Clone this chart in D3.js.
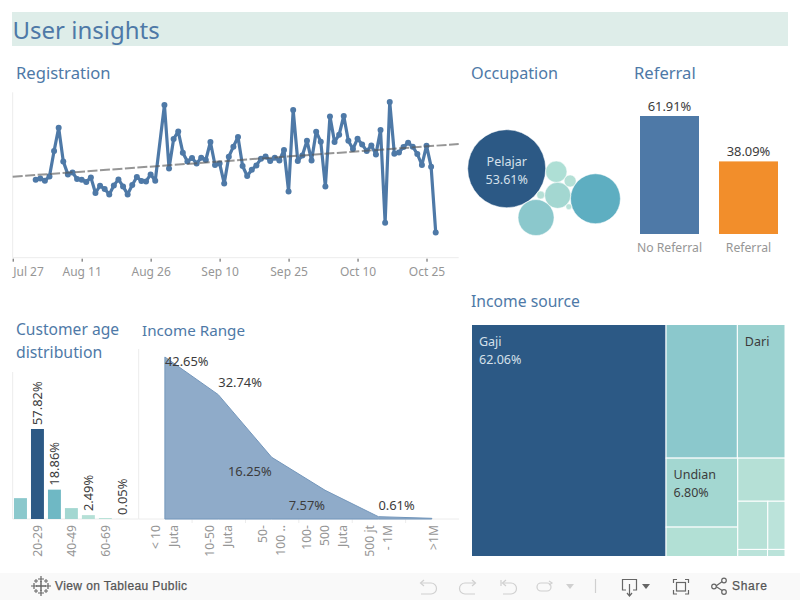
<!DOCTYPE html>
<html><head><meta charset="utf-8">
<style>html,body{margin:0;padding:0;background:#fff}svg{display:block}text{font-family:"Noto Sans",sans-serif}</style>
<script src="https://cdn.jsdelivr.net/npm/d3@7"></script></head>
<body><svg id="c" width="800" height="600"></svg>
<script>
// ---- data ----
const regStartDate = "2020-08-01";
const regValues = [78,79.3,77,81.3,106.7,130,96.3,83.3,85.3,78.7,78,75.7,80.3,64.7,72,68.7,63.3,72.3,78.3,71.3,63.3,72.7,80.7,76.7,76.3,83.3,77,null,152.7,89.3,118.7,126.3,105,96.3,99.7,94.3,100,97.7,115.7,92.7,94.3,74.3,101,111,120.7,91.7,81.7,88,92.3,99,101.3,96.7,100,97.3,107.7,66.3,147.7,96.7,102.3,117,97.3,126,116,71.3,141.3,115.7,123,141.7,117,108.7,119,113.3,106.7,112.3,103.3,127.7,35,155.7,104,105.3,110.7,115,111,103.7,92.7,112,91,25.3];
const regTicks = ["2020-07-27","2020-08-11","2020-08-26","2020-09-10","2020-09-25","2020-10-10","2020-10-25"];
const trendDates = ["2020-07-27","2020-11-01"];
const trendValues = [81,113.7];

const occupationNames = ["Pelajar","","","","","","",""];
const occupationShares = [53.61,21.9,11.4,5.96,4,1.27,.56,.3];

const referralNames = ["No Referral","Referral"];
const referralShares = [61.91,38.09];

const ageGroups = ["<20","20-29","30-39","40-49","50-59","60-69",">70"];
const ageShares = [13.4,57.82,18.86,7,2.49,.6,.05];
const ageTickLabels = ["20-29","40-49","60-69"];
const ageValueLabels = ["","57.82%","18.86%","","2.49%","","0.05%"];

const incomeRanges = ["< 10 Juta","10-50 Juta","50-100 Juta","100-500 Juta","500 jt - 1M",">1M"];
const incomeTickLines = [["< 10","Juta"],["10-50","Juta"],["50-","100 .."],["100-","500","Juta"],["500 jt","- 1M"],[">1M"]];
const incomeShares = [42.65,32.74,16.25,7.57,.61,.18];
const incomeLabels = ["42.65%","32.74%","16.25%","7.57%","0.61%",""];

const sourceNames = ["Gaji","","Dari","Undian","","","","","",""];
const sourceShares = [62.06,13.1,8.75,6.8,2.9,2.8,1.99,1.14,.29,.17];
const sourceLabels = ["62.06%","","","6.80%","","","","","",""];

// ---- styles ----
const BLUE="#4e79a7", NAVY="#2c5985", INK="#3c3c3c", GREY="#969696", RULE="#ececec";
const occColors=["#2c5985","#5eaec1","#8bc8cc","#a3d7d1","#aedfd5","#b5e0d6","#b5e0d6","#b9e2d9"];
const ageColors=["#8bc8cc","#2c5985","#6fb8c4","#a3d7d1","#b5e0d6","#b5e0d6","#b9e2d9"];
const refColors=["#4e79a7","#f28e2b"];
const srcColors=["#2c5985","#8bc8cc","#9bd2d0","#a3d7d1","#b2e0d5","#b5e0d6","#b7e1d7","#bbe3da","#bbe3da","#bbe3da"];

const svg=d3.select("#c");
const label=(g,x,y,t,size,fill,anchor)=>g.append("text").attr("x",x).attr("y",y).attr("dy","0.35em").attr("font-size",size).attr("fill",fill).attr("text-anchor",anchor||"start").text(t);
const vText=(g,x,y,t,size,fill)=>g.append("text").attr("transform",`translate(${x},${y}) rotate(-90)`).attr("dy","0.35em").attr("font-size",size).attr("fill",fill).attr("text-anchor","start").text(t);

// ---- header & sheet titles ----
svg.append("rect").attr("x",12).attr("y",12).attr("width",776).attr("height",34).attr("fill","#deede9");
label(svg,12.5,31,"User insights",24,BLUE);
[["Registration",16,73.5,16.6],["Occupation",471,73.5,16.2],["Referral",634,73.5,16.6],["Income source",471,301.5,15.7],["Customer age",16,329.5,15.6],["distribution",16,352.5,15.8],["Income Range",142,330.5,15.2]]
 .forEach(d=>label(svg,d[1],d[2],d[0],d[3],BLUE));

// ---- registration line ----
{
 const parse=d3.utcParse("%Y-%m-%d");
 const x=d3.scaleUtc().domain([parse("2020-07-27"),parse("2020-11-01")]).range([12.7,458.7]);
 const y=d3.scaleLinear().domain([0,165.4]).range([257.7,92.3]);
 const start=parse(regStartDate);
 const pts=regValues.map((v,i)=>({d:d3.utcDay.offset(start,i),v})).filter(p=>p.v!==null);
 const g=svg.append("g");
 g.append("line").attr("x1",12.7).attr("x2",12.7).attr("y1",92.3).attr("y2",257.7).attr("stroke",RULE);
 const ax=g.append("g").attr("transform","translate(0,257.7)")
  .call(d3.axisBottom(x).tickValues(regTicks.map(parse)).tickFormat(d3.utcFormat("%b %d")).tickSize(4).tickPadding(6));
 ax.select(".domain").attr("stroke",RULE).attr("d","M12.7,0H458.7");
 ax.selectAll(".tick line").attr("stroke","#555").attr("y1",1);
 ax.selectAll("text").attr("font-size",12).attr("fill",GREY).attr("font-family",'"Noto Sans"');
 ax.select(".tick text").attr("text-anchor","start");
 g.append("path").datum(pts).attr("fill","none").attr("stroke",BLUE).attr("stroke-width",3.2)
  .attr("stroke-linejoin","round").attr("d",d3.line().x(p=>x(p.d)).y(p=>y(p.v)));
 g.selectAll("circle").data(pts).join("circle").attr("cx",p=>x(p.d)).attr("cy",p=>y(p.v)).attr("r",3).attr("fill",BLUE);
 g.append("path").datum(trendDates.map((d,i)=>({d:parse(d),v:trendValues[i]}))).attr("fill","none")
  .attr("stroke","#555").attr("stroke-opacity",.62).attr("stroke-width",2).attr("stroke-dasharray","10 2.5")
  .attr("d",d3.line().x(p=>x(p.d)).y(p=>y(p.v)));
}

// ---- occupation bubbles: each one is laid tangent to two already placed ----
{
 const r=d3.scaleSqrt().domain([0,d3.max(occupationShares)]).range([0,39]);
 const c=occupationShares.map((v,i)=>({v,i,r:r(v)}));
 const [A,B,C,D,E,F,G,H]=c;
 const polar=(p,q,deg)=>{const a=deg*Math.PI/180,d=p.r+q.r;q.x=p.x+d*Math.cos(a);q.y=p.y+d*Math.sin(a);};
 const tangent=(p,q,n,side)=>{
  const dx=q.x-p.x,dy=q.y-p.y,L=Math.hypot(dx,dy),d1=p.r+n.r,d2=q.r+n.r;
  const a=(d1*d1-d2*d2+L*L)/(2*L),h=Math.sqrt(Math.max(0,d1*d1-a*a));
  n.x=p.x+a*dx/L-side*h*dy/L; n.y=p.y+a*dy/L+side*h*dx/L;
 };
 A.x=506.7;A.y=168.7;
 polar(A,E,3.5); polar(A,C,59);
 tangent(C,E,D,1); tangent(E,D,F,-1); tangent(D,F,B,1); tangent(A,D,G,1); tangent(D,B,H,1);
 const g=svg.append("g");
 g.selectAll("circle").data(c).join("circle").attr("cx",d=>d.x).attr("cy",d=>d.y).attr("r",d=>d.r)
  .attr("fill",d=>occColors[d.i]).attr("stroke","#fff").attr("stroke-width",.5);
 label(g,A.x,162,occupationNames[0],12.5,"#d5e0ea","middle");
 label(g,A.x,180,occupationShares[0].toFixed(2)+"%",12.5,"#d5e0ea","middle");
}

// ---- referral bars ----
{
 const x=d3.scaleBand().domain(referralNames).range([640,778]).paddingInner(20/79);
 const y=d3.scaleLinear().domain([0,61.91]).range([234,116]);
 const g=svg.append("g");
 g.selectAll("rect").data(referralNames).join("rect").attr("x",d=>x(d)).attr("width",x.bandwidth())
  .attr("y",(d,i)=>y(referralShares[i])).attr("height",(d,i)=>234-y(referralShares[i])).attr("fill",(d,i)=>refColors[i]);
 referralNames.forEach((n,i)=>{
  const cx=x(n)+x.bandwidth()/2;
  label(g,cx,y(referralShares[i])-10,referralShares[i].toFixed(2)+"%",12.9,INK,"middle");
  label(g,cx,248,n,12.2,GREY,"middle");
 });
}

// ---- age bars ----
{
 const x=d3.scaleBand().domain(ageGroups).range([12.5,130.3]).paddingInner(4/16.83).paddingOuter(1.5/16.83);
 const y=d3.scaleLinear().domain([0,57.82]).range([519,429]);
 const g=svg.append("g");
 g.append("line").attr("x1",12.7).attr("x2",12.7).attr("y1",372).attr("y2",519).attr("stroke",RULE);
 const ax=g.append("g").attr("transform","translate(0,519)").call(d3.axisBottom(x).tickValues(ageTickLabels).tickSize(0));
 ax.select(".domain").attr("stroke",RULE).attr("d","M12.7,0H138.5");
 ax.selectAll("text").attr("font-size",12.2).attr("fill",GREY).attr("font-family",'"Noto Sans"')
  .attr("text-anchor","end").attr("transform","translate(0,6) rotate(-90)")
  .attr("x",0).attr("y",0).attr("dy","0.35em");
 g.selectAll("rect").data(ageGroups).join("rect").attr("x",d=>x(d)).attr("width",x.bandwidth())
  .attr("y",(d,i)=>y(ageShares[i])).attr("height",(d,i)=>519-y(ageShares[i])).attr("fill",(d,i)=>ageColors[i]);
 ageGroups.forEach((n,i)=>{ if(ageValueLabels[i]) vText(g,x(n)+x.bandwidth()/2,y(ageShares[i])-4,ageValueLabels[i],12.9,INK); });
}

// ---- income area ----
{
 const x=d3.scaleBand().domain(incomeRanges).range([138.7,459]);
 const cx=d=>x(d)+x.bandwidth()/2-.5;
 const y=d3.scaleLinear().domain([0,42.65]).range([519,357]);
 const g=svg.append("g");
 g.append("line").attr("x1",138.7).attr("x2",138.7).attr("y1",349).attr("y2",519).attr("stroke",RULE);
 const ax=g.append("g").attr("transform","translate(0,519)").call(d3.axisBottom(x).tickSize(0).tickFormat(""));
 ax.select(".domain").attr("stroke",RULE).attr("d","M138.7,0H459");
 incomeRanges.forEach(n=>{ if(n!==incomeRanges[0]) g.append("line").attr("x1",x(n)).attr("x2",x(n)).attr("y1",519).attr("y2",523).attr("stroke",RULE); });
 const rows=incomeRanges.map((n,i)=>({n,v:incomeShares[i]}));
 g.append("path").datum(rows).attr("fill","#8fabc9").attr("stroke","#7396bb").attr("stroke-width",1)
  .attr("d",d3.area().x(d=>cx(d.n)).y0(519).y1(d=>y(d.v)));
 incomeTickLines.forEach((lines,i)=>{
  const mid=cx(incomeRanges[i])+(lines.length===1?2:0);
  lines.forEach((t,j)=>{
   g.append("text").attr("transform",`translate(${mid+(j-(lines.length-1)/2)*18},525) rotate(-90)`)
    .attr("dy","0.35em").attr("text-anchor","end").attr("font-size",12.2).attr("fill",GREY).text(t);
  });
 });
 const place=[[0,4,"start"],[0,-12,"start"],[0,14,"end"],[0,15,"end"],[0,-11,"start"]];
 incomeLabels.forEach((t,i)=>{ if(t) label(g,cx(incomeRanges[i])+place[i][0],y(incomeShares[i])+place[i][1],t,12.9,INK,place[i][2]); });
}

// ---- income source treemap ----
{
 const leaf=i=>({i,name:sourceNames[i],value:sourceShares[i]});
 const tree={children:[leaf(0),{children:[
   {children:[leaf(1),leaf(2)]},
   {children:[{children:[leaf(3),leaf(4)]},
     {children:[leaf(5),{children:[leaf(6),leaf(7)]},{children:[leaf(8),leaf(9)]}]}]}]}]};
 const root=d3.hierarchy(tree).sum(d=>d.children?0:d.value);
 d3.treemap().size([313.5,232]).tile(d3.treemapSliceDice)(root);
 const g=svg.append("g").attr("transform","translate(471.5,324.5)");
 const lv=root.leaves();
 g.selectAll("rect").data(lv).join("rect").attr("x",d=>d.x0).attr("y",d=>d.y0).attr("width",d=>d.x1-d.x0).attr("height",d=>d.y1-d.y0)
  .attr("fill",d=>srcColors[d.data.i]).attr("stroke","#fff").attr("stroke-width",1);
 lv.forEach(d=>{
  const i=d.data.i, col=i===0?"#d5e0ea":INK;
  if(sourceNames[i]) label(g,d.x0+7.5,d.y0+17,sourceNames[i],12.5,col);
  if(sourceLabels[i]) label(g,d.x0+7.5,d.y0+35,sourceLabels[i],12.5,col);
 });
}

// ---- footer ----
{
 const f=svg.append("g");
 f.append("rect").attr("x",0).attr("y",573).attr("width",800).attr("height",27).attr("fill","#f9f9f9");
 const strokeP=(d,c,w)=>f.append("path").attr("d",d).attr("fill","none").attr("stroke",c).attr("stroke-width",w||1.2);
 const L="#666";
 [[41,586,5,1.4],[41,579,3,1.2],[41,593,3,1.2],[34,586,3,1.2],[48,586,3,1.2],[36,581,2,1],[46,581,2,1],[36,591,2,1],[46,591,2,1]].forEach(p=>{
  strokeP(`M${p[0]-p[2]},${p[1]}H${p[0]+p[2]}M${p[0]},${p[1]-p[2]}V${p[1]+p[2]}`,L,p[3]);
 });
 f.append("text").attr("x",55).attr("y",586).attr("dy","0.35em").attr("font-size",12).attr("fill","#555").attr("letter-spacing",.4)
  .style("font-family",'"Liberation Sans",Arial,sans-serif').attr("stroke","#555").attr("stroke-width",.25).text("View on Tableau Public");
 const off="#d0d0d0", on="#666";
 strokeP("M421,583H431a5.5,5.5 0 0 1 0,11H421",off);strokeP("M424,580L420.5,583L424,586",off);
 strokeP("M475,583H465a5.5,5.5 0 0 0 0,11H475",off);strokeP("M472,580L475.5,583L472,586",off);
 strokeP("M503,583H511a5.5,5.5 0 0 1 0,11H503",off);strokeP("M506,580L502.5,583L506,586M501,580V586",off);
 strokeP("M541,583H547a4,4 0 0 1 0,8H541a4,4 0 0 1 0,-8",off);strokeP("M549,581L552,583L549,585",off);
 f.append("path").attr("d","M566,584H574L570,589Z").attr("fill",off);
 strokeP("M595.5,579V593",off);
 strokeP("M626,590H622.5V579.5H636.5V590H633",on);strokeP("M629.5,584V596M627,593L629.5,596L632,593",on);
 f.append("path").attr("d","M642,584H650L646,589Z").attr("fill",on);
 strokeP("M673.5,583V579.5H677M685,579.5H688.5V583M688.5,590V594H685M677,594H673.5V590",on);
 f.append("rect").attr("x",676.5).attr("y",582.5).attr("width",9).attr("height",8.5).attr("fill","none").attr("stroke",on).attr("stroke-width",1.2);
 strokeP("M716,586L723,581M716,586.5L723,591",on);
 [[714,586.5],[724,580.5],[724,592]].forEach(p=>f.append("circle").attr("cx",p[0]).attr("cy",p[1]).attr("r",2.3).attr("fill","#f9f9f9").attr("stroke",on).attr("stroke-width",1.2));
 f.append("text").attr("x",732).attr("y",586).attr("dy","0.35em").attr("font-size",12).attr("fill","#555").attr("letter-spacing",.7)
  .style("font-family",'"Liberation Sans",Arial,sans-serif').attr("stroke","#555").attr("stroke-width",.25).text("Share");
}
</script></body></html>
